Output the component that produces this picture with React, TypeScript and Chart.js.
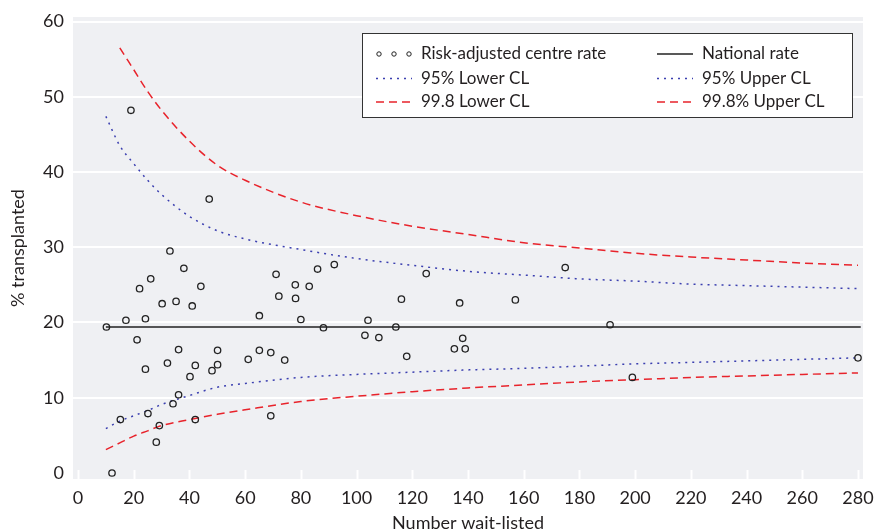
import React, { useEffect, useRef } from 'react';
import { Chart, registerables } from 'chart.js';
Chart.register(...registerables);

// Risk-adjusted centre rates (number wait-listed, % transplanted)
const centreX = [
  10.2, 12.2, 15.2, 17.2, 19.0, 21.2, 22.1, 24.2, 24.2, 25.1, 26.1, 28.1, 29.2, 30.2,
  32.1, 33.0, 34.1, 35.2, 36.1, 36.1, 38.0, 40.2, 41.0, 42.1, 42.1, 44.1, 47.1, 48.1,
  50.1, 50.1, 61.1, 65.1, 65.1, 69.2, 69.2, 71.1, 72.1, 74.2, 78.0, 78.1, 80.0, 83.0,
  86.0, 88.1, 92.0, 103.0, 104.1, 108.0, 114.1, 116.1, 118.0, 125.0, 135.1, 137.0,
  138.1, 139.0, 157.0, 174.9, 191.0, 199.0, 280.0,
];
const centreY = [
  19.4, 0.0, 7.1, 20.3, 48.2, 17.7, 24.5, 20.5, 13.8, 7.9, 25.8, 4.1, 6.3, 22.5,
  14.6, 29.5, 9.2, 22.8, 16.4, 10.4, 27.2, 12.8, 22.2, 14.3, 7.1, 24.8, 36.4, 13.6,
  16.3, 14.4, 15.1, 20.9, 16.3, 16.0, 7.6, 26.4, 23.5, 15.0, 25.0, 23.2, 20.4, 24.8,
  27.1, 19.3, 27.7, 18.3, 20.3, 18.0, 19.4, 23.1, 15.5, 26.5, 16.5, 22.6,
  17.9, 16.5, 23.0, 27.3, 19.7, 12.7, 15.3,
];

// Control limits
const clX = [10, 15, 20, 25, 30, 40, 50, 60, 80, 100, 120, 140, 160, 180, 200, 220, 240, 260, 280];
const upper95 = [47.4, 43.5, 41.1, 38.9, 37.0, 34.1, 32.2, 31.1, 29.7, 28.5, 27.6, 26.8, 26.3, 25.8, 25.5, 25.1, 24.9, 24.7, 24.5];
const lower95 = [5.9, 6.9, 7.6, 8.3, 9.1, 10.3, 11.4, 11.9, 12.7, 13.1, 13.4, 13.7, 13.9, 14.2, 14.5, 14.7, 14.9, 15.1, 15.3];
const upper998 = [null, 56.5, 53.6, 50.7, 48.2, 44.1, 40.9, 38.9, 36.0, 34.2, 32.8, 31.7, 30.6, 29.9, 29.2, 28.7, 28.3, 27.9, 27.6];
const lower998 = [3.1, 4.0, 4.9, 5.6, 6.3, 7.1, 7.8, 8.4, 9.5, 10.2, 10.8, 11.3, 11.7, 12.1, 12.4, 12.7, 12.9, 13.1, 13.3];

const nationalRate = 19.4;
const nationalX = [10, 281];

const xTicks = [0, 20, 40, 60, 80, 100, 120, 140, 160, 180, 200, 220, 240, 260, 280];
const yTicks = [0, 10, 20, 30, 40, 50, 60];

const legendLabels = [
  'Risk-adjusted centre rate',
  'National rate',
  '95% Lower CL',
  '95% Upper CL',
  '99.8 Lower CL',
  '99.8% Upper CL',
];

const FONT = 'Lato, "Open Sans", sans-serif';
const BG = '#eff0f3';
const BLUE = '#3b3fb0';
const RED = '#e8232b';

const pts = (xs: number[], ys: (number | null)[]) => xs.map((x, i) => ({ x, y: ys[i] }));

const bgPlugin = {
  id: 'bgPlugin',
  beforeDraw(chart: any) {
    const { ctx, chartArea: a } = chart;
    ctx.save();
    ctx.fillStyle = BG;
    ctx.fillRect(a.left, a.top, a.right - a.left, a.bottom - a.top);
    ctx.restore();
  },
  beforeDatasetsDraw(chart: any) {
    const { ctx, chartArea: a } = chart;
    const xs = chart.scales.x;
    ctx.save();
    ctx.strokeStyle = '#ffffff';
    ctx.lineWidth = 2;
    for (const t of xTicks) {
      const px = Math.round(xs.getPixelForValue(t)) + 0.5;
      ctx.beginPath();
      ctx.moveTo(px, a.bottom - 9);
      ctx.lineTo(px, a.bottom);
      ctx.stroke();
    }
    ctx.restore();
  },
};

const legendPlugin = {
  id: 'boxLegend',
  afterDraw(chart: any) {
    const { ctx, chartArea: a } = chart;
    const left = a.left + 289;
    const top = a.top + 16;
    const w = 490;
    const h = 84;
    ctx.save();
    ctx.fillStyle = '#ffffff';
    ctx.fillRect(left, top, w, h);
    ctx.strokeStyle = '#333333';
    ctx.lineWidth = 1;
    ctx.strokeRect(left + 0.5, top + 0.5, w, h);
    ctx.font = `17px ${FONT}`;
    ctx.fillStyle = '#231f20';
    ctx.textBaseline = 'middle';
    const rows = [top + 21, top + 45.5, top + 69];
    const cols = [left + 14, left + 295];
    const sampleW = 36;
    const drawSample = (kind: number, x: number, y: number) => {
      ctx.save();
      if (kind === 0) {
        ctx.strokeStyle = '#222';
        ctx.lineWidth = 1;
        for (let k = 0; k < 3; k++) {
          ctx.beginPath();
          ctx.arc(x + 3 + k * 15, y, 2.2, 0, Math.PI * 2);
          ctx.stroke();
        }
      } else {
        ctx.lineWidth = kind === 1 ? 1.3 : 1.5;
        ctx.strokeStyle = kind === 1 ? '#222' : kind === 2 ? BLUE : RED;
        ctx.setLineDash(kind === 1 ? [] : kind === 2 ? [2, 5] : [8, 5]);
        ctx.beginPath();
        ctx.moveTo(x, y);
        ctx.lineTo(x + sampleW, y);
        ctx.stroke();
      }
      ctx.restore();
    };
    const kinds = [0, 1, 2, 2, 3, 3];
    legendLabels.forEach((lab, i) => {
      const r = Math.floor(i / 2);
      const c = i % 2;
      drawSample(kinds[i], cols[c], rows[r]);
      ctx.fillText(lab, cols[c] + 45, rows[r]);
    });
    ctx.restore();
  },
};

export default function App() {
  const ref = useRef<HTMLCanvasElement | null>(null);
  useEffect(() => {
    document.body.style.margin = '0';
    if (!ref.current) return;
    const lineDs = (label: string, xs: number[], ys: (number | null)[], color: string, dash: number[], width: number) => ({
      label,
      data: pts(xs, ys),
      showLine: true,
      borderColor: color,
      borderWidth: width,
      borderDash: dash,
      pointRadius: 0,
      fill: false,
      cubicInterpolationMode: 'monotone' as const,
      spanGaps: true,
    });
    const chart = new Chart(ref.current, {
      type: 'scatter',
      data: {
        datasets: [
          {
            label: legendLabels[0],
            data: pts(centreX, centreY),
            pointRadius: 3.2,
            pointBorderWidth: 1.3,
            borderColor: '#222222',
            backgroundColor: 'rgba(0,0,0,0)',
            showLine: false,
          },
          lineDs(legendLabels[1], nationalX, nationalX.map(() => nationalRate), '#222222', [], 1.3),
          lineDs(legendLabels[2], clX, lower95, BLUE, [2, 5], 1.5),
          lineDs(legendLabels[3], clX, upper95, BLUE, [2, 5], 1.5),
          lineDs(legendLabels[4], clX, lower998, RED, [8, 5], 1.5),
          lineDs(legendLabels[5], clX, upper998, RED, [8, 5], 1.5),
        ] as any,
      },
      options: {
        animation: false,
        responsive: false,
        events: [],
        layout: { padding: { top: 17, right: 13, left: 0, bottom: 0 } },
        plugins: { legend: { display: false }, tooltip: { enabled: false } },
        scales: {
          x: {
            type: 'linear',
            min: -1.8,
            max: 281.8,
            afterBuildTicks: (axis: any) => { axis.ticks = xTicks.map((v) => ({ value: v })); },
            afterFit: (s: any) => { s.height = 53; s.paddingLeft = 0; s.paddingRight = 0; },
            grid: { display: false, drawTicks: false },
            border: { display: false },
            ticks: { padding: 8, color: '#231f20', font: { family: FONT, size: 18 }, maxRotation: 0, autoSkip: false },
            title: {
              display: true,
              text: 'Number wait-listed',
              color: '#231f20',
              font: { family: FONT, size: 18, lineHeight: 1 },
              padding: { top: 0, bottom: 0 },
            },
          },
          y: {
            type: 'linear',
            min: -0.8,
            max: 60.6,
            afterBuildTicks: (axis: any) => { axis.ticks = yTicks.map((v) => ({ value: v })); },
            afterFit: (s: any) => { s.width = 73; s.paddingTop = 0; s.paddingBottom = 0; },
            grid: {
              drawTicks: false,
              lineWidth: 2,
              color: (c: any) => (c.tick && c.tick.value === 0 ? 'rgba(0,0,0,0)' : '#ffffff'),
            },
            border: { display: false },
            ticks: { padding: 9, color: '#231f20', font: { family: FONT, size: 18 }, autoSkip: false },
            title: {
              display: true,
              text: '% transplanted',
              color: '#231f20',
              font: { family: FONT, size: 18, lineHeight: 1 },
              padding: { top: 9, bottom: 0 },
            },
          },
        },
      },
      plugins: [bgPlugin, legendPlugin],
    });
    return () => chart.destroy();
  }, []);
  return (
    <div style={{ width: 876, height: 532 }}>
      <canvas ref={ref} width={876} height={532} style={{ display: 'block', width: 876, height: 532 }} />
    </div>
  );
}
